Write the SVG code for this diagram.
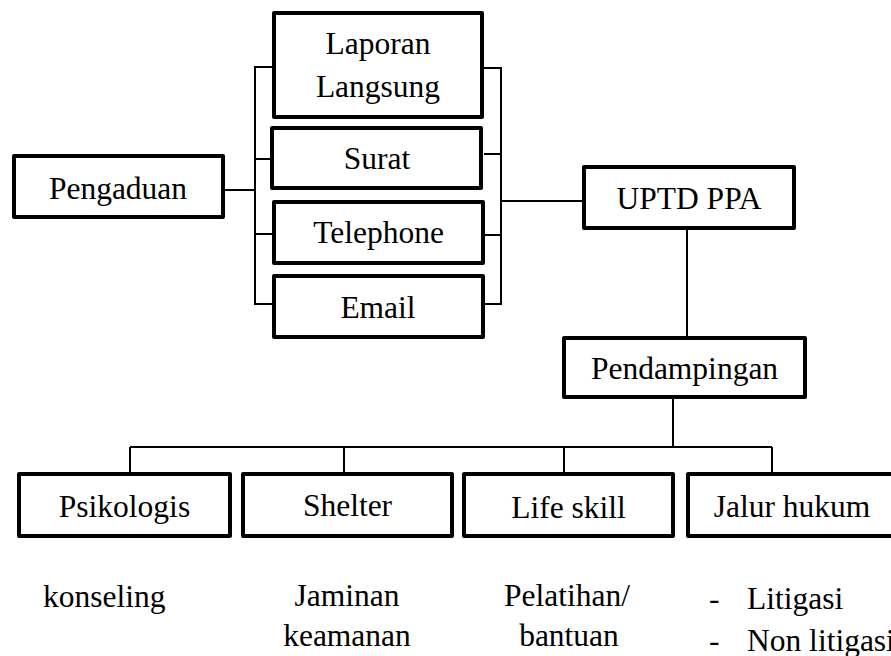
<svg xmlns="http://www.w3.org/2000/svg" width="891" height="656" viewBox="0 0 891 656" font-family="'Liberation Serif', Tinos, 'Times New Roman', 'DejaVu Serif', serif" font-size="31.5">
<style>
.box{fill:#fff;stroke:#000;stroke-width:4;stroke-linejoin:round}
.ln{fill:none;stroke:#000;stroke-width:2}
text{font-family:'Liberation Serif',Tinos,'Times New Roman','DejaVu Serif',serif;font-size:31.5px;fill:#000}
.c{text-anchor:middle}
</style>
<rect width="891" height="656" fill="#fff"/>
<g id="connectors">
<path class="ln" d="M225 190H255M272 67H255V304H272M255 159H272M255 234H272"/>
<path class="ln" d="M484 68H501V304H484M484 154H501M484 235H501M501 201H583"/>
<path class="ln" d="M687 229V337M673 398V447M130 447H772M130 447V474M344 447V474M564 447V474M772 447V474"/>
</g>
<g id="pengaduan"><rect class="box" x="14" y="156" width="209" height="61"/><text class="c" x="118" y="199">Pengaduan</text></g>
<g id="laporan"><rect class="box" x="274" y="13" width="208" height="104"/><text class="c" x="378" y="54">Laporan</text><text class="c" x="378" y="97">Langsung</text></g>
<g id="surat"><rect class="box" x="272" y="128" width="209" height="60"/><text class="c" x="377" y="169">Surat</text></g>
<g id="telephone"><rect class="box" x="274" y="202" width="209" height="61"/><text class="c" x="378.5" y="243">Telephone</text></g>
<g id="email"><rect class="box" x="274" y="276" width="209" height="61"/><text class="c" x="378" y="318">Email</text></g>
<g id="uptd"><rect class="box" x="584" y="167" width="210" height="61"/><text class="c" x="689" y="209">UPTD PPA</text></g>
<g id="pendampingan"><rect class="box" x="564" y="338" width="241" height="59"/><text class="c" x="684.5" y="379">Pendampingan</text></g>
<g id="psikologis"><rect class="box" x="19" y="474" width="211" height="62"/><text class="c" x="124.5" y="517">Psikologis</text></g>
<g id="shelter"><rect class="box" x="243" y="474" width="209" height="62"/><text class="c" x="347.5" y="516">Shelter</text></g>
<g id="lifeskill"><rect class="box" x="464" y="474" width="209" height="62"/><text class="c" x="568.5" y="518">Life skill</text></g>
<g id="jalurhukum"><rect class="box" x="688" y="474" width="210" height="62"/><text class="c" x="792" y="517">Jalur hukum</text></g>
<g id="notes">
<text x="43" y="607">konseling</text>
<text class="c" x="347" y="606">Jaminan</text>
<text class="c" x="347" y="646">keamanan</text>
<text class="c" x="567" y="606">Pelatihan/</text>
<text class="c" x="569" y="646">bantuan</text>
<text x="709" y="609">-</text>
<text x="747" y="609">Litigasi</text>
<text x="709" y="651">-</text>
<text x="747" y="651">Non litigasi</text>
</g>
</svg>
